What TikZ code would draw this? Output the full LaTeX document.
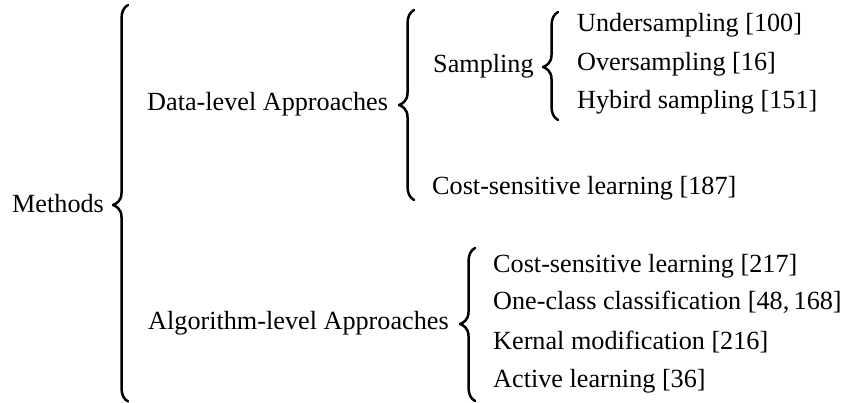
\documentclass[tikz,border=0pt]{standalone}
\usepackage{fontspec}
\setmainfont{Liberation Serif}

% Curly brace opening to the left: cusp x, cusp y, top y, bottom y
\newcommand\curlybrace[4]{%
  \draw[bracestroke]
    ({#1+15},#3) .. controls ({#1+10.5},{#3+2.5}) and ({#1+8.5},{#3+7}) .. ({#1+8.5},{#3+14})
    -- ({#1+8.5},{#2-12})
    .. controls ({#1+8.5},{#2-4}) and ({#1+3},{#2-1}) .. (#1,#2)
    .. controls ({#1+3},{#2+1}) and ({#1+8.5},{#2+4}) .. ({#1+8.5},{#2+12})
    -- ({#1+8.5},{#4-14})
    .. controls ({#1+8.5},{#4-7}) and ({#1+10.5},{#4-2.5}) .. ({#1+15},#4);}

\begin{document}
\begin{tikzpicture}[x=1pt,y=-1pt,
  label/.style={anchor=base west,inner sep=0pt,font=\fontsize{26.2}{30}\selectfont},
  bracestroke/.style={line width=2.5pt,line cap=round,line join=round}]
\useasboundingbox (0,0) rectangle (846,403);

% root
\node[label] (methods) at (12,213) {Methods};
\curlybrace{113}{205}{5}{401.5}

% first level
\node[label] (data) at (147,111) {Data-level Approaches};
\node[label] (algo) at (148,330) {Algorithm-level Approaches};

% data-level branch
\curlybrace{399}{105}{10}{200}
\node[label] (samp) at (433,73) {Sampling};
\node[label] (cost1) at (432,195) {Cost-sensitive learning [187]};

% sampling branch
\curlybrace{543}{67}{12}{120}
\node[label] (under) at (577,32) {Undersampling [100]};
\node[label] (over) at (577,71) {Oversampling [16]};
\node[label] (hyb) at (577,109) {Hybird sampling [151]};

% algorithm-level branch
\curlybrace{460}{324}{248}{401}
\node[label] (cost2) at (493,273) {Cost-sensitive learning [217]};
\node[label] (one) at (493,310) {One-class classification [48,\,168]};
\node[label] (kern) at (493,349) {Kernal modification [216]};
\node[label] (active) at (493,387) {Active learning [36]};
\end{tikzpicture}
\end{document}
